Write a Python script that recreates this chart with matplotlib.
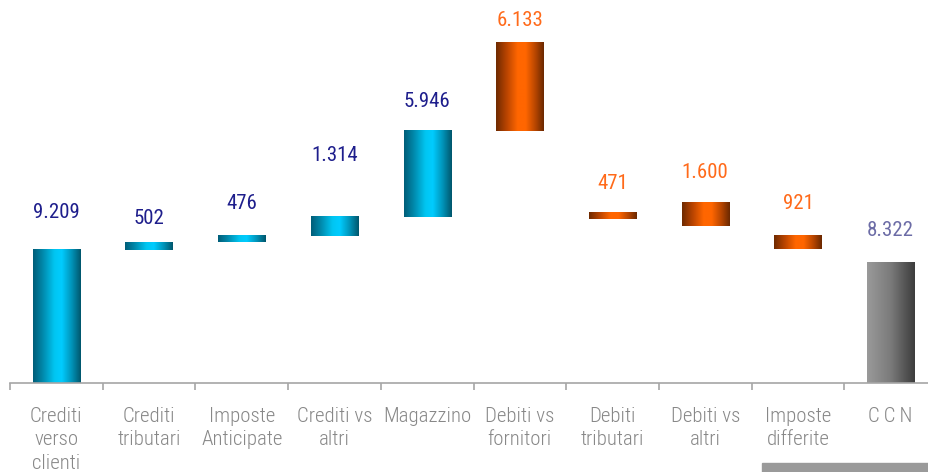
import matplotlib
matplotlib.use("Agg")
import matplotlib.pyplot as plt
from matplotlib.colors import LinearSegmentedColormap
from matplotlib.patches import Rectangle
import numpy as np

plt.rcParams['font.family'] = ['Roboto Condensed', 'Liberation Sans', 'DejaVu Sans']

# CCN bridge (migliaia di euro)
categories = ["Crediti\nverso\nclienti", "Crediti\ntributari", "Imposte\nAnticipate",
              "Crediti vs\naltri", "Magazzino", "Debiti vs\nfornitori", "Debiti\ntributari",
              "Debiti vs\naltri", "Imposte\ndifferite", "C\u2009C\u2009N"]
values = [9209, 502, 476, 1314, 5946, -6133, -471, -1600, -921]
total = 8322
labels = ["9.209", "502", "476", "1.314", "5.946", "6.133", "471", "1.600", "921", "8.322"]

# label distance above each bar, in points
label_pad = [27, 17, 23, 44, 21, 15, 21, 22, 23, 23]

cmap_pos = LinearSegmentedColormap.from_list("pos", [
    (0.0, "#005d78"), (0.2, "#0088aa"), (0.45, "#00c6f2"), (0.6, "#00ccff"),
    (0.8, "#0096bc"), (1.0, "#00566c")])
cmap_neg = LinearSegmentedColormap.from_list("neg", [
    (0.0, "#6e2a00"), (0.22, "#b84400"), (0.45, "#ff6600"), (0.62, "#ff6600"),
    (0.82, "#b84600"), (1.0, "#6a2800")])
cmap_tot = LinearSegmentedColormap.from_list("tot", [
    (0.0, "#9a9a9a"), (0.5, "#7a7a7a"), (1.0, "#3c3c3c")])

fig = plt.figure(figsize=(9.29, 4.72), dpi=100)
ax = fig.add_axes([10 / 929, 89 / 472, 927 / 929, 383 / 472])

n = len(categories)
ymax = 26470
width = 0.51
grad = np.linspace(0, 1, 256).reshape(1, -1)

running = 0
bases, heights, cmaps, colors = [], [], [], []
for v in values:
    bases.append(running)
    heights.append(abs(v))
    if v >= 0:
        cmaps.append(cmap_pos)
        colors.append("#1e1e8c")
    else:
        cmaps.append(cmap_neg)
        colors.append("#ff6a1a")
    running += v
bases.append(0)
heights.append(total)
cmaps.append(cmap_tot)
colors.append("#6c6ca6")

for i in range(n):
    b, h = bases[i], heights[i]
    ax.imshow(grad, cmap=cmaps[i], aspect='auto', interpolation='bilinear',
              extent=(i - width / 2, i + width / 2, b, b + h), zorder=2)
    ax.annotate(labels[i], (i, b + h), xytext=(0, label_pad[i]), textcoords='offset points',
                ha='center', va='center', fontsize=15, color=colors[i])

ax.set_xlim(-0.5, n - 0.5)
ax.set_ylim(0, ymax)

for s in ['top', 'right', 'left']:
    ax.spines[s].set_visible(False)
ax.spines['bottom'].set_color("#a6a6a6")
ax.spines['bottom'].set_linewidth(1.2)
ax.set_yticks([])
ax.set_xticks(range(n))
ax.set_xticklabels(categories, fontsize=15, color="#888888", linespacing=1.32,
                   fontweight='light')
ax.tick_params(axis='x', which='major', length=0, pad=17)
ax.set_xticks(np.arange(-0.5, n, 1.0), minor=True)
ax.tick_params(axis='x', which='minor', length=5, color="#a6a6a6", width=1.2)

fig.patches.append(Rectangle((762 / 929, 0), 1 - 762 / 929, 9 / 472,
                             transform=fig.transFigure, color="#9a9a9a", zorder=0))

fig.savefig("out.png", dpi=100)
